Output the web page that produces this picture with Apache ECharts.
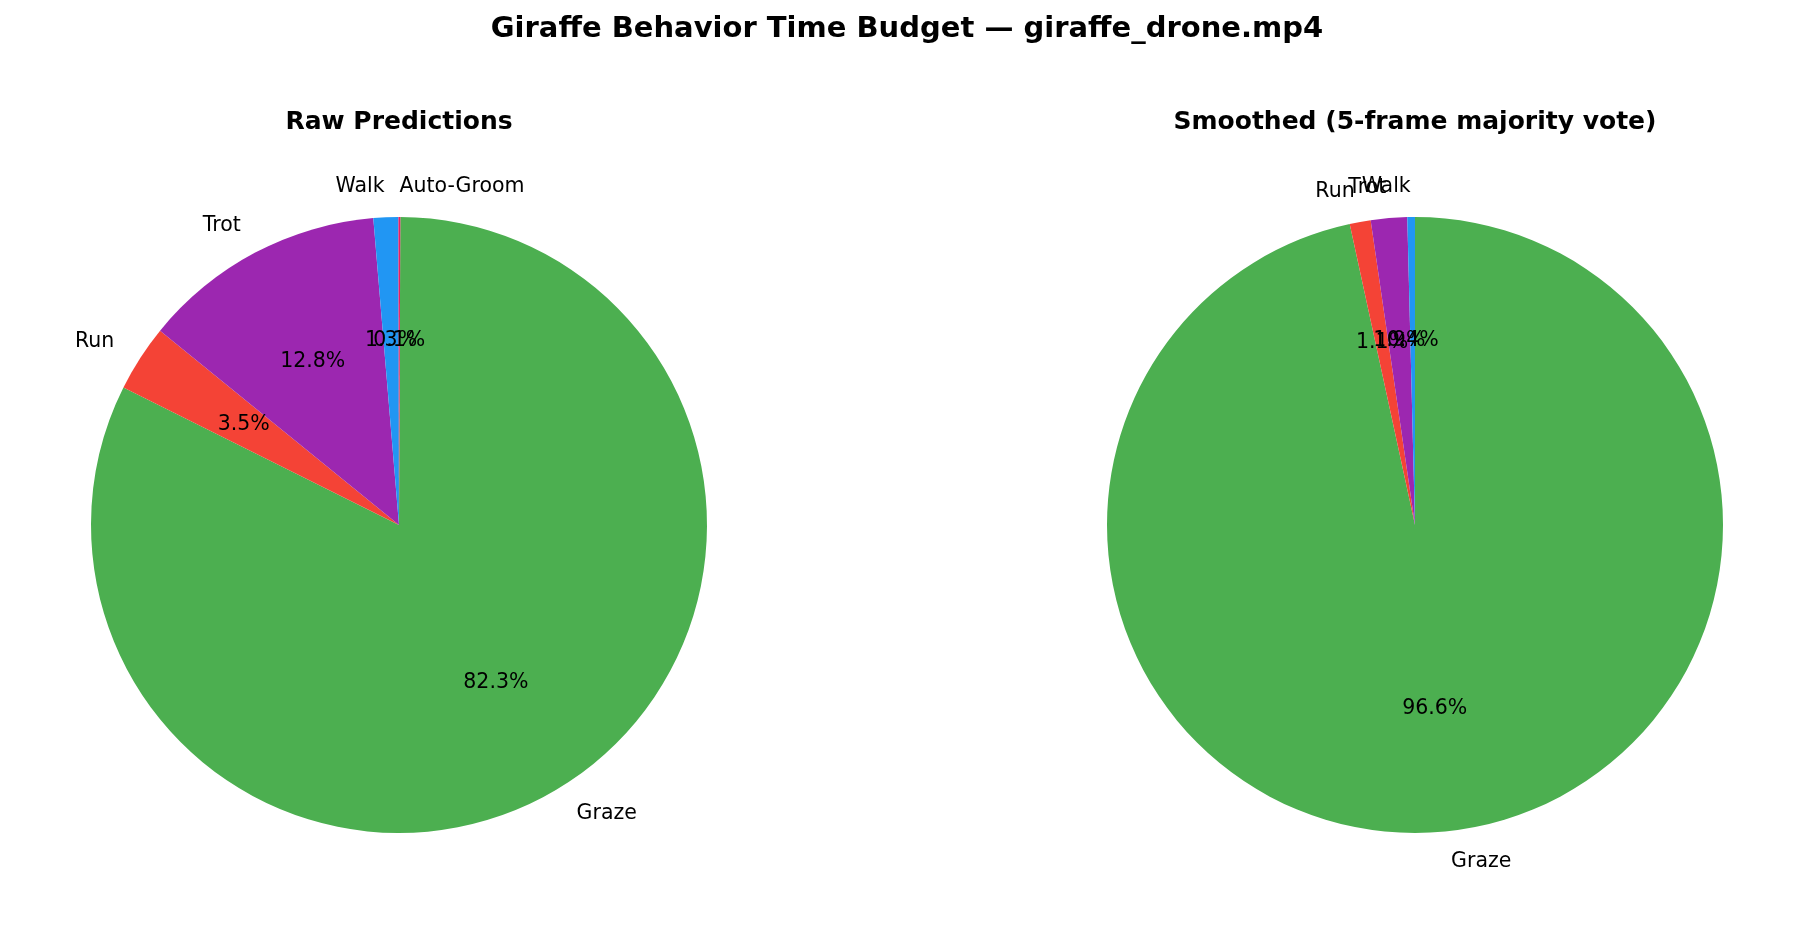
<!DOCTYPE html>
<html>
<head>
<meta charset="utf-8">
<script src="https://cdn.jsdelivr.net/npm/echarts@6/dist/echarts.min.js"></script>
<style>
html,body{margin:0;padding:0;background:#fff;}
#c{width:1814px;height:925px;}
</style>
</head>
<body>
<div id="c"></div>
<script>
const rawCategories = ['Graze', 'Run', 'Trot', 'Walk', 'Auto-Groom'];
const rawValues = [82.3, 3.5, 12.8, 1.3, 0.1];
const smoothCategories = ['Graze', 'Run', 'Trot', 'Walk'];
const smoothValues = [96.6, 1.1, 1.9, 0.4];
const colorMap = {
  'Graze': '#4CAF50',
  'Run': '#F44336',
  'Trot': '#9C27B0',
  'Walk': '#2196F3',
  'Auto-Groom': '#E91E63'
};
const mainTitle = 'Giraffe Behavior Time Budget \u2014 giraffe_drone.mp4';
const subTitles = ['Raw Predictions', 'Smoothed (5-frame majority vote)'];

const FONT = 'DejaVu Sans';
const R = 308;
const centers = [[399, 525], [1415, 525]];

function makeData(cats, vals) {
  return cats.map((c, i) => ({ name: c, value: vals[i], itemStyle: { color: colorMap[c] } }));
}

function pieSeries(cats, vals, center, startAngle) {
  const data = makeData(cats, vals);
  return [
    {
      type: 'pie',
      center: center,
      radius: [0, R],
      startAngle: startAngle,
      clockwise: true,
      avoidLabelOverlap: false,
      minShowLabelAngle: 0,
      labelLayout: { hideOverlap: false },
      silent: true,
      animation: false,
      itemStyle: { borderWidth: 0 },
      label: {
        show: true,
        position: 'outside',
        formatter: '{b}',
        color: '#000',
        fontFamily: FONT,
        fontSize: 20.5,
        padding: [4, 0, 0, 0],
        distanceToLabelLine: 0
      },
      labelLine: { show: false, length: R * 0.1, length2: 0 },
      emphasis: { disabled: true },
      data: data
    },
    {
      type: 'pie',
      center: center,
      radius: [0, R * 1.2 - 6],
      startAngle: startAngle,
      clockwise: true,
      avoidLabelOverlap: false,
      minShowLabelAngle: 0,
      labelLayout: { hideOverlap: false },
      silent: true,
      animation: false,
      itemStyle: { color: 'rgba(0,0,0,0)', borderWidth: 0 },
      label: {
        show: true,
        position: 'inside',
        formatter: p => p.value.toFixed(1) + '%',
        color: '#000',
        fontFamily: FONT,
        fontSize: 20.5,
        padding: [4, 0, 0, 0]
      },
      labelLine: { show: false },
      emphasis: { disabled: true },
      data: cats.map((c, i) => ({ name: c, value: vals[i], itemStyle: { color: 'rgba(0,0,0,0)' } }))
    }
  ];
}

const chart = echarts.init(document.getElementById('c'), null, { renderer: 'canvas' });
chart.setOption({
  backgroundColor: '#fff',
  animation: false,
  title: [
    { text: mainTitle, left: 'center', top: 10, textStyle: { fontFamily: FONT, fontWeight: 'bold', fontSize: 29, color: '#000' } },
    { text: subTitles[0], left: centers[0][0] - 5, top: 105, textAlign: 'center', textStyle: { fontFamily: FONT, fontWeight: 'bold', fontSize: 25, color: '#000' } },
    { text: subTitles[1], left: centers[1][0] - 5, top: 105, textAlign: 'center', textStyle: { fontFamily: FONT, fontWeight: 'bold', fontSize: 25, color: '#000' } }
  ],
  series: [
    ...pieSeries(rawCategories, rawValues, centers[0], 89.75),
    ...pieSeries(smoothCategories, smoothValues, centers[1], 90)
  ]
});
</script>
</body>
</html>
